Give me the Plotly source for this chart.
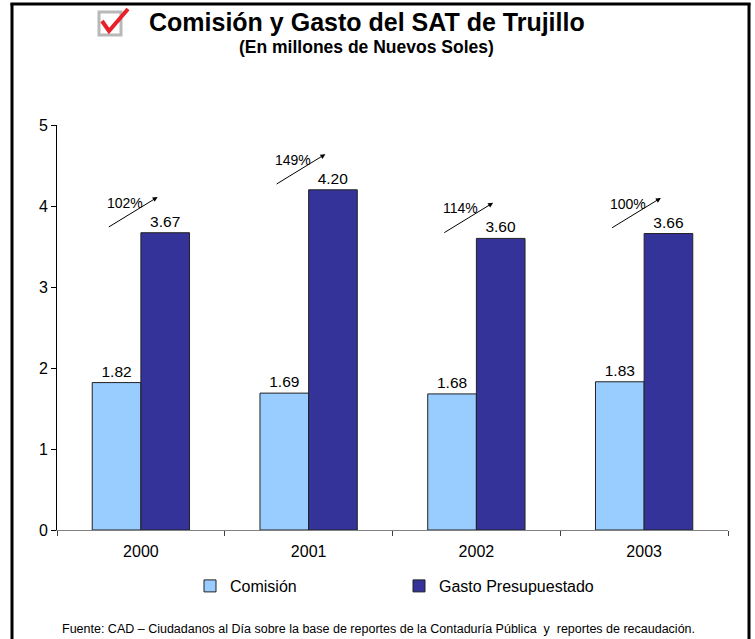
import plotly.graph_objects as go

years = ['2000', '2001', '2002', '2003']
comision = [1.82, 1.69, 1.68, 1.83]
gasto = [3.67, 4.20, 3.60, 3.66]
pct_labels = ['102%', '149%', '114%', '100%']

W, H = 755, 639
L, R, T, B = 57, 728, 125, 530  # plot area in px

def px(xp):
    return (xp - L) / (R - L)

def py(yp):
    return (B - yp) / (B - T)

FONT = "Arial, Liberation Sans, sans-serif"

fig = go.Figure()
fig.add_trace(go.Bar(
    x=years, y=comision, name='Comisión',
    marker=dict(color='#99CCFF', line=dict(color='#222222', width=1)),
    texttemplate='%{y:.2f}', textposition='outside', cliponaxis=False,
    textfont=dict(size=15.5, color='black', family=FONT),
))
fig.add_trace(go.Bar(
    x=years, y=gasto, name='Gasto Presupuestado',
    marker=dict(color='#333399', line=dict(color='#222222', width=1)),
    texttemplate='%{y:.2f}', textposition='outside', cliponaxis=False,
    textfont=dict(size=15.5, color='black', family=FONT),
))

annotations = []
for i, (g, lab) in enumerate(zip(gasto, pct_labels)):
    annotations.append(dict(
        x=i + 0.10, y=g + 0.44, ax=i - 0.20, ay=g + 0.06,
        xref='x', yref='y', axref='x', ayref='y',
        showarrow=True, arrowhead=2, arrowsize=1, arrowwidth=1,
        arrowcolor='black', standoff=0, startstandoff=0, text='',
    ))
    annotations.append(dict(
        x=i - 0.095, y=g + 0.37, xref='x', yref='y', text=lab,
        showarrow=False, font=dict(size=14, color='black', family=FONT),
    ))

annotations += [
    dict(x=px(367), y=py(22), xref='paper', yref='paper', showarrow=False,
         text='<b>Comisión y Gasto del SAT de Trujillo</b>',
         font=dict(size=25, color='black', family=FONT), yanchor='middle'),
    dict(x=px(366), y=py(47), xref='paper', yref='paper', showarrow=False,
         text='<b>(En millones de Nuevos Soles)</b>',
         font=dict(size=17.5, color='black', family=FONT), yanchor='middle'),
    dict(x=px(378), y=py(629), xref='paper', yref='paper', showarrow=False,
         text='Fuente: CAD – Ciudadanos al Día sobre la base de reportes de la Contaduría Pública  y  reportes de recaudación.',
         font=dict(size=12.5, color='black', family=FONT), yanchor='middle'),
]

line = dict(color='black', width=3)
shapes = [
    # outer frame
    dict(type='line', xref='paper', yref='paper', x0=px(12), x1=px(12), y0=py(700), y1=py(3), line=line),
    dict(type='line', xref='paper', yref='paper', x0=px(10.5), x1=px(750.5), y0=py(4), y1=py(4), line=line),
    dict(type='line', xref='paper', yref='paper', x0=px(749), x1=px(749), y0=py(700), y1=py(3), line=line),
    # checkbox icon
    dict(type='rect', xref='paper', yref='paper',
         x0=px(99), x1=px(121), y0=py(35), y1=py(12),
         line=dict(color='#B8B8B8', width=3), fillcolor='white'),
    dict(type='path', xref='paper', yref='paper',
         path=f'M {px(102)},{py(21)} L {px(109)},{py(31)} L {px(128)},{py(9)}',
         line=dict(color='#E8202A', width=4)),
]

fig.update_layout(
    width=W, height=H,
    margin=dict(l=L, r=W - R, t=T, b=H - B),
    paper_bgcolor='white', plot_bgcolor='white',
    barmode='group', bargap=0.42, bargroupgap=0,
    font=dict(family=FONT, color='black'),
    showlegend=True,
    legend=dict(orientation='h', x=px(190), xanchor='left', y=py(586), yanchor='middle',
                font=dict(size=16, family=FONT), entrywidth=164, entrywidthmode='pixels',
                bgcolor='rgba(0,0,0,0)'),
    annotations=annotations,
    shapes=shapes,
    xaxis=dict(type='category', showline=True, linecolor='#808080', linewidth=1,
               ticks='outside', tickson='boundaries', ticklen=5, tickcolor='#404040',
               tickfont=dict(size=16, family=FONT), showgrid=False, zeroline=False,
               ticklabelstandoff=7),
    yaxis=dict(range=[0, 5], dtick=1, showline=True, linecolor='black', linewidth=1,
               ticks='outside', ticklen=5, tickcolor='black', showgrid=False, zeroline=False,
               tickfont=dict(size=16, family=FONT)),
)

fig.write_html('out.html', config={'displayModeBar': False},
               post_script="document.body.style.margin='0';document.body.style.overflow='hidden';")
